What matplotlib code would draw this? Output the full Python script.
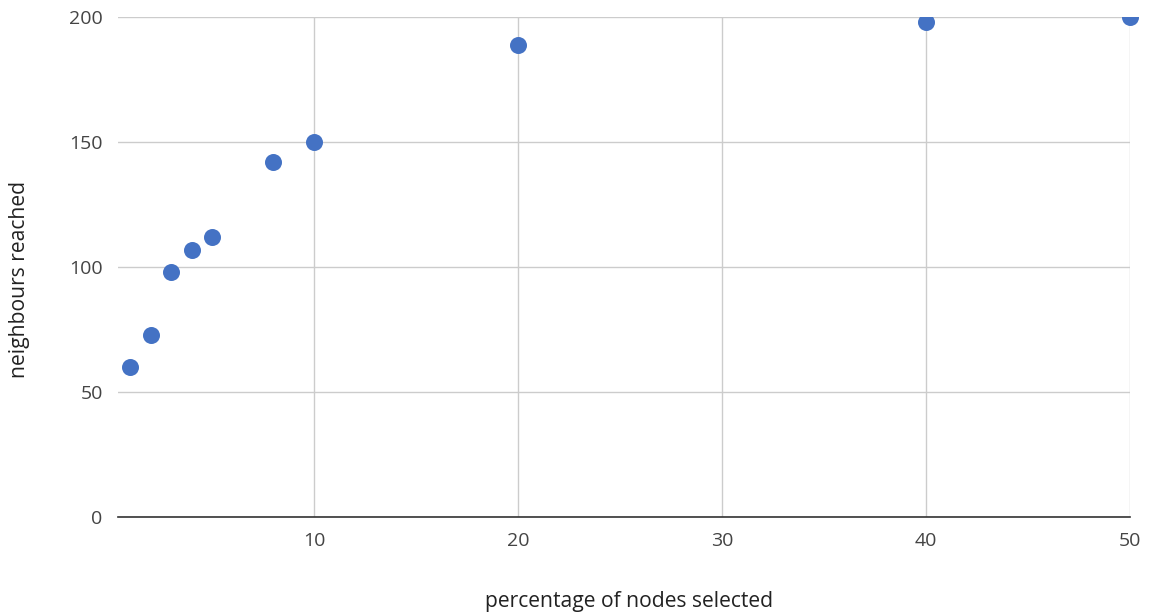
import matplotlib.pyplot as plt
from matplotlib.patches import Rectangle

pct_selected = [1, 2, 3, 4, 5, 8, 10, 20, 40, 50]
neighbours = [60, 73, 98, 107, 112, 142, 150, 189, 198, 200]
x_ticks = [10, 20, 30, 40, 50]
y_ticks = [0, 50, 100, 150, 200]

plt.rcParams['font.family'] = ['Open Sans', 'DejaVu Sans']

fig = plt.figure(figsize=(11.5, 6.16), dpi=100)
ax = fig.add_axes([118 / 1150, 1 - 517 / 616, (1130 - 118) / 1150, (517 - 17) / 616])

pts = ax.scatter(pct_selected, neighbours, s=150, color='#4472c4', zorder=3,
                 linewidths=0)
# clip only at the top edge, like the original chart
clip = Rectangle((-0.1, -0.1), 1.2, 1.1, transform=ax.transAxes)
pts.set_clip_path(clip)

ax.set_xlim(0.39, 50)
ax.set_ylim(0, 200)
ax.set_xticks(x_ticks)
ax.set_yticks(y_ticks)
ax.grid(True, color='#cccccc', linewidth=1)
ax.set_axisbelow(True)

for side in ['top', 'right', 'left']:
    ax.spines[side].set_visible(False)
ax.spines['bottom'].set_color('#333333')
ax.spines['bottom'].set_linewidth(1.2)
ax.spines['bottom'].set_zorder(4)

ax.tick_params(length=0, labelsize=14, labelcolor='#444444')
ax.tick_params(axis='y', pad=11)
ax.tick_params(axis='x', pad=11)

fig.text(629 / 1150, 1 - 602 / 616, 'percentage of nodes selected',
         ha='center', va='center', fontsize=15.2, color='#222222')
fig.text(20 / 1150, 1 - 279 / 616, 'neighbours reached', rotation=90,
         ha='center', va='center', fontsize=15.2, color='#222222')

fig.savefig('out.png', dpi=100)
